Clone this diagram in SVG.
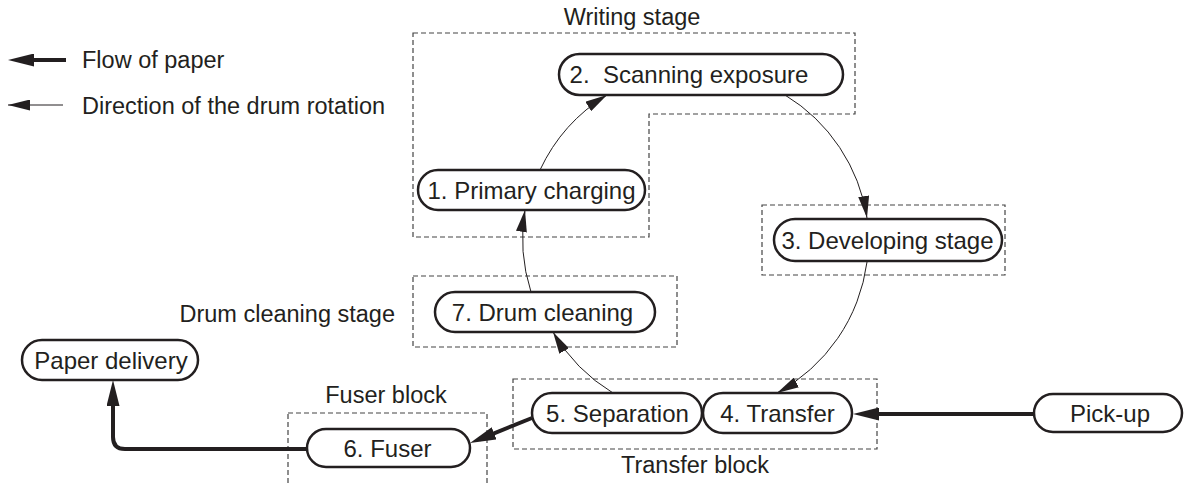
<svg xmlns="http://www.w3.org/2000/svg" width="1186" height="484" viewBox="0 0 1186 484">
<style>
text{font-family:"Liberation Sans",Arial,sans-serif;fill:#231f20}
.n{font-size:24px;text-anchor:middle}
.l{font-size:23.5px}
.pill{fill:#fff;stroke:#231f20;stroke-width:2.5}
.box{fill:none;stroke:#444;stroke-width:1.2;stroke-dasharray:5 3}
.thin{fill:none;stroke:#231f20;stroke-width:1}
.thick{fill:none;stroke:#231f20;stroke-width:4}
</style>
<defs>
<marker id="ah" markerUnits="userSpaceOnUse" markerWidth="22" markerHeight="11" refX="22" refY="5.5" orient="auto"><path d="M0,0 L22,5.5 L0,11 z" fill="#231f20"/></marker>
<marker id="ahk" markerUnits="userSpaceOnUse" markerWidth="26" markerHeight="13" refX="16" refY="6.5" orient="auto"><path d="M0,0 L26,6.5 L0,13 z" fill="#231f20"/></marker>
</defs>
<g id="legend">
<path class="thick" d="M66,60 H18" marker-end="url(#ahk)"/>
<text class="l" x="82" y="68">Flow of paper</text>
<path class="thin" d="M63,105 H8" marker-end="url(#ah)"/>
<text class="l" x="82" y="114">Direction of the drum rotation</text>
</g>
<g id="stages">
<path class="box" d="M413,33 H855 V114 H649 V237 H413 Z"/>
<text class="l" x="632" y="25" text-anchor="middle">Writing stage</text>
<rect class="box" x="762" y="205" width="243" height="70"/>
<rect class="box" x="413" y="276" width="264" height="71"/>
<text class="l" x="395" y="322" text-anchor="end">Drum cleaning stage</text>
<rect class="box" x="288" y="413" width="199" height="100"/>
<text class="l" x="386" y="403" text-anchor="middle">Fuser block</text>
<rect class="box" x="513" y="379" width="364" height="70"/>
<text class="l" x="695" y="473" text-anchor="middle">Transfer block</text>
</g>
<g id="connectors">
<path class="thin" d="M540,170 A175,175 0 0 1 607,95" marker-end="url(#ah)"/>
<path class="thin" d="M785,95 A175,175 0 0 1 867,218" marker-end="url(#ah)"/>
<path class="thin" d="M867,262 A175,175 0 0 1 777,393" marker-end="url(#ah)"/>
<path class="thin" d="M613,393 A175,175 0 0 1 553,332" marker-end="url(#ah)"/>
<path class="thin" d="M531,292 A175,175 0 0 1 525,210" marker-end="url(#ah)"/>
<path class="thick" d="M1034,414 H863" marker-end="url(#ahk)"/>
<path class="thick" d="M532,418 L479.3,439.3" marker-end="url(#ahk)"/>
<path class="thick" d="M307,449 H125 Q113,449 113,437 V390" marker-end="url(#ahk)"/>
</g>
<g id="n2"><rect class="pill" x="559" y="54" width="284" height="41" rx="20.5"/><text class="n" x="689" y="83" xml:space="preserve">2.  Scanning exposure</text></g>
<g id="n1"><rect class="pill" x="418" y="170" width="227" height="40" rx="20"/><text class="n" x="531.5" y="198.5">1. Primary charging</text></g>
<g id="n3"><rect class="pill" x="774" y="219" width="228" height="42" rx="21"/><text class="n" x="887.5" y="248.5">3. Developing stage</text></g>
<g id="n7"><rect class="pill" x="435" y="292" width="220" height="40" rx="20"/><text class="n" x="542.5" y="320.5">7. Drum cleaning</text></g>
<g id="delivery"><rect class="pill" x="22" y="340" width="176" height="40" rx="20"/><text class="n" x="111" y="368.5">Paper delivery</text></g>
<g id="n6"><rect class="pill" x="307" y="429" width="163" height="38" rx="19"/><text class="n" x="387.5" y="456.5">6. Fuser</text></g>
<g id="n5"><rect class="pill" x="532" y="393" width="170" height="40" rx="20"/><text class="n" x="617.5" y="421.5">5. Separation</text></g>
<g id="n4"><rect class="pill" x="703" y="393" width="149" height="40" rx="20"/><text class="n" x="777.5" y="421.5">4. Transfer</text></g>
<g id="pickup"><rect class="pill" x="1034" y="394" width="148" height="38" rx="19"/><text class="n" x="1110" y="421.5">Pick-up</text></g>
</svg>
